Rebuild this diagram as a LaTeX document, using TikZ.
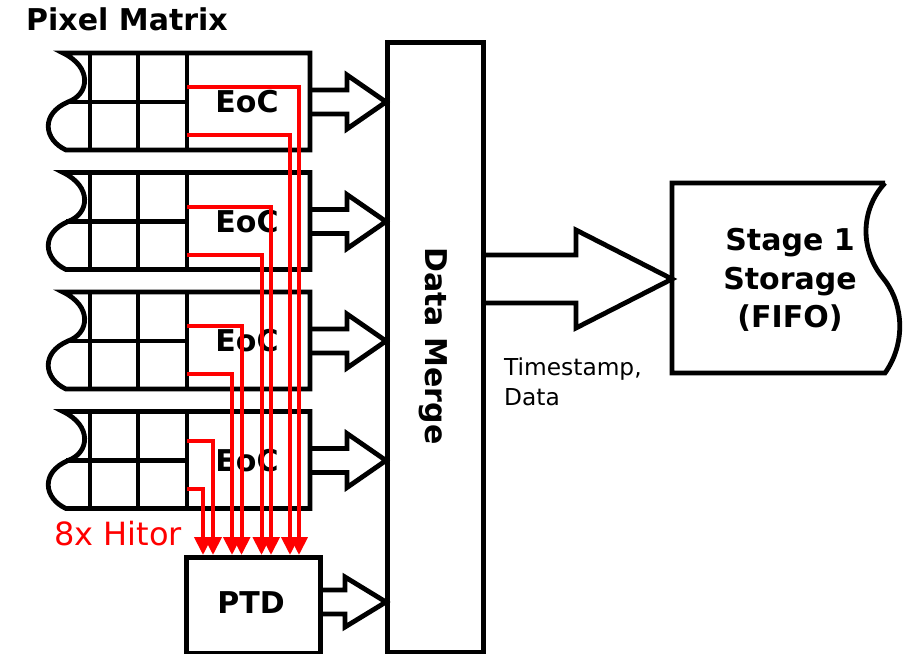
\documentclass[tikz,border=0pt]{standalone}
\usepackage{fontspec}
\setmainfont{DejaVu Sans}
\usetikzlibrary{arrows.meta}
\begin{document}
\begin{tikzpicture}[x=1pt,y=-1pt,
  blk/.style={line width=4.8pt,line join=miter,draw=black},
  hit/.style={red,line width=4pt,-{Triangle[width=17pt,length=18pt]}},
  boldlbl/.style={font=\fontsize{30}{38.5}\selectfont\bfseries,inner sep=0pt},
  hollow/.style={line width=4.8pt,line join=miter,draw=black}]
\useasboundingbox (0,0) rectangle (907,653);
% Data merge
\node[draw,line width=5pt,minimum width=96pt,minimum height=610pt,inner sep=0pt,anchor=north west] (dm) at (385,40) {};
\node[boldlbl,rotate=-90] (dmt) at (433,346) {Data Merge};
% pixel matrix blocks
\foreach \T/\ro/\ri/\o/\oo [count=\k] in {53/34/82/299/290, 172.5/34/82/271/261.5, 292/34/82/241.5/232, 411.5/29/77/213/203}{
  \pgfmathsetmacro{\B}{\T+97}
  \pgfmathsetmacro{\M}{\T+49}
  \coordinate (tl\k) at (63,\T);
  \coordinate (bl\k) at (66,\B);
  \coordinate (tr\k) at (310,\T);
  \coordinate (br\k) at (310,\B);
  \draw[blk] (tl\k) .. controls (92,\T+14) and (90,\M-8) .. (68,\M)
     .. controls (40,\M+12) and (44,\B-10) .. (bl\k) -- (br\k) -- (tr\k) -- cycle;
  \draw[blk] (66,\M) -- (187,\M);
  \foreach \xx in {90,138,187}{ \draw[blk] (\xx,\T) -- (\xx,\B); }
  \node[boldlbl] (eoc\k) at (247,\M) {EoC};
  % hollow arrow
  \draw[hollow] (310,\M-12) -- (347,\M-12) -- (347,\M-27) -- (386,\M) -- (347,\M+27) -- (347,\M+12) -- (310,\M+12);
  \coordinate (ra\k) at (187,\T+\ro);
  \coordinate (rb\k) at (187,\T+\ri);
  \coordinate (ta\k) at (\o,555);
  \coordinate (tb\k) at (\oo,555);
}
% PTD
\node[draw,line width=4.8pt,minimum width=134pt,minimum height=96pt,inner sep=0pt,anchor=north west] (ptd) at (184,555) {};
\node[boldlbl] (ptdt) at (251,603) {PTD};
\draw[hollow] (318,590) -- (345,590) -- (345,577) -- (386,602) -- (345,627) -- (345,614) -- (318,614);
% red hitor lines
\foreach \k in {1,2,3,4}{
  \draw[hit] (ra\k) -| (ta\k);
  \draw[hit] (rb\k) -| (tb\k);
}
% big arrow
\draw[hollow] (481,255) -- (576,255) -- (576,230) -- (672,279) -- (576,328) -- (576,303) -- (481,303);
% FIFO
\coordinate (f1) at (885,183);
\coordinate (f2) at (885,373);
\draw[blk] (f1) -- (672,183) -- (672,373) -- (f2)
  .. controls (905,345) and (905,305) .. (883,278)
  .. controls (860,250) and (860,210) .. (f1);
\node[boldlbl,align=center] (fifo) at (790,280) {Stage 1\\Storage\\(FIFO)};
% labels
\node[font=\fontsize{23.3}{30}\selectfont,anchor=west,align=left,inner sep=0pt] (ts) at (504,382) {Timestamp,\\Data};
\node[boldlbl] (pm) at (127,19) {Pixel Matrix};
\node[font=\fontsize{32}{36}\selectfont,text=red,inner sep=0pt] (hitor) at (118,534) {8x Hitor};
\end{tikzpicture}
\end{document}
